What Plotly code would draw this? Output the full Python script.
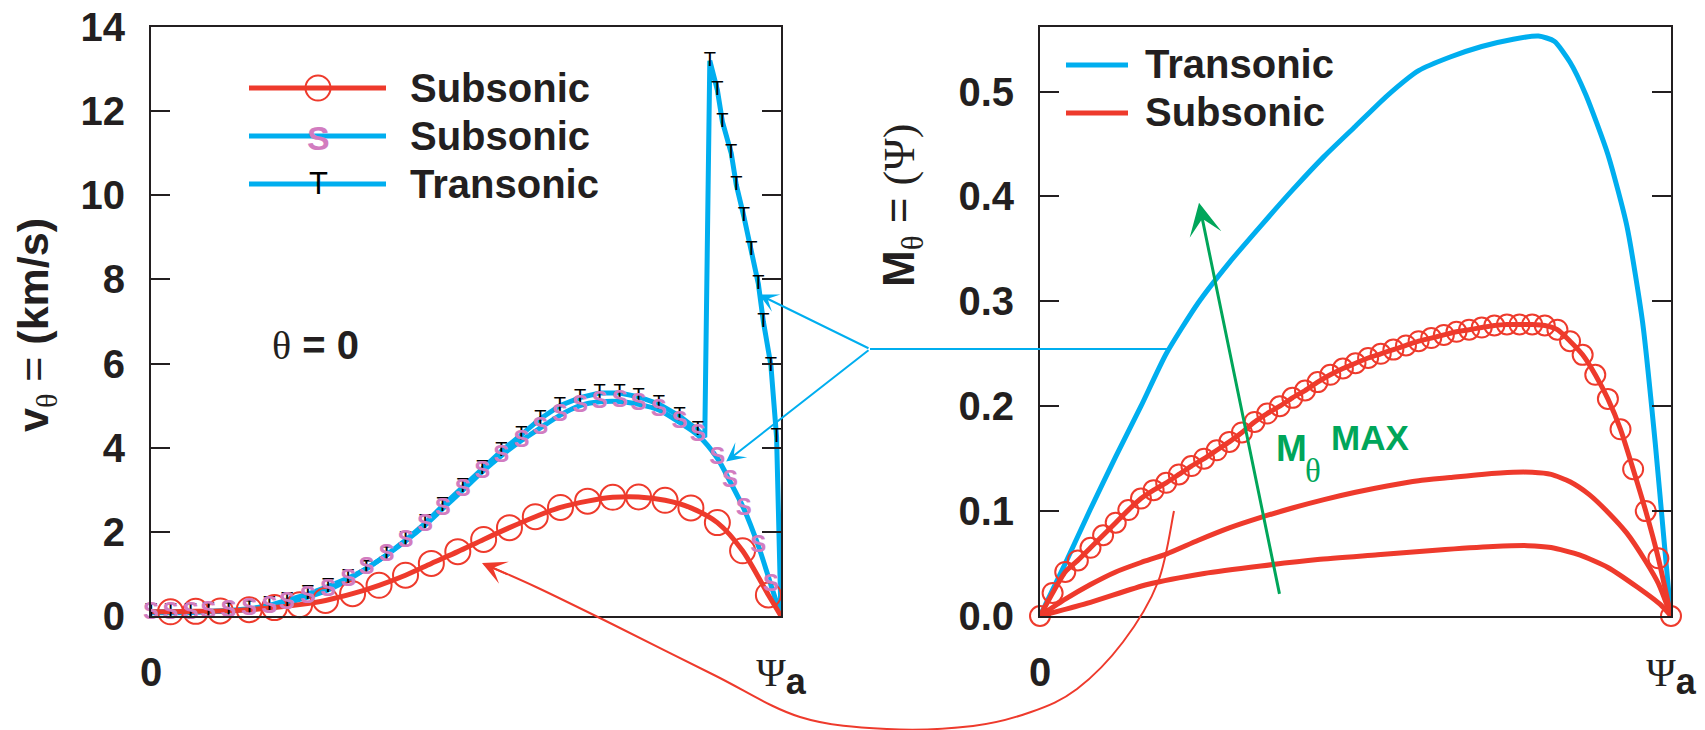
import plotly.graph_objects as go

W, H = 1705, 730
def px(x): return x / W
def py(y): return 1 - y / H

RED = "#EE3A2C"
CYAN = "#00AEEF"
PINK = "#D27CC0"
GREEN = "#00A65A"
INK = "#231F20"
SERIF = "Liberation Serif"
SANS = "Liberation Sans"

# ---------------- left panel data: v_theta (km/s) vs Psi ----------------
trans_x = [0.000, 0.031, 0.063, 0.091, 0.123, 0.156, 0.188, 0.216, 0.249, 0.281, 0.313, 0.342,
           0.374, 0.404, 0.435, 0.463, 0.495, 0.526, 0.556, 0.588, 0.618, 0.649, 0.681, 0.712,
           0.744, 0.774, 0.806, 0.839, 0.868, 0.879, 0.887, 0.899, 0.907, 0.921, 0.929, 0.941,
           0.953, 0.964, 0.972, 0.984, 0.993, 1.000]
trans_y = [0.10, 0.10, 0.10, 0.11, 0.13, 0.17, 0.25, 0.36, 0.52, 0.70, 0.90, 1.12,
           1.45, 1.80, 2.20, 2.62, 3.06, 3.50, 3.92, 4.31, 4.69, 5.00, 5.19, 5.30,
           5.30, 5.21, 5.04, 4.75, 4.42, 4.25, 13.2, 12.5, 11.75, 11.0, 10.25, 9.5,
           8.7, 7.9, 7.0, 5.95, 4.25, 0.0]
trans_mark = ["T"] * 29 + [""] + ["T"] * 11 + [""]

subS_x = [0.000, 0.031, 0.063, 0.091, 0.123, 0.156, 0.188, 0.216, 0.249, 0.281, 0.313, 0.342,
          0.374, 0.404, 0.435, 0.463, 0.495, 0.526, 0.556, 0.588, 0.618, 0.649, 0.681, 0.712,
          0.744, 0.774, 0.806, 0.839, 0.868, 0.899, 0.919, 0.941, 0.964, 0.984, 1.000]
subS_y = [0.08, 0.08, 0.08, 0.10, 0.12, 0.16, 0.22, 0.32, 0.45, 0.62, 0.86, 1.13,
          1.45, 1.78, 2.16, 2.55, 2.99, 3.43, 3.81, 4.17, 4.47, 4.77, 5.00, 5.09,
          5.10, 5.03, 4.90, 4.60, 4.30, 3.75, 3.20, 2.55, 1.67, 0.74, 0.00]
subS_mark = ["S"] * 34 + [""]

subO_x = [0.000, 0.031, 0.071, 0.110, 0.156, 0.196, 0.236, 0.277, 0.320, 0.362, 0.404, 0.445,
          0.487, 0.528, 0.569, 0.610, 0.650, 0.693, 0.733, 0.774, 0.816, 0.857, 0.899, 0.939,
          0.980, 1.000]
subO_y = [0.10, 0.10, 0.11, 0.12, 0.15, 0.20, 0.27, 0.37, 0.53, 0.73, 0.97, 1.25,
          1.53, 1.82, 2.10, 2.36, 2.58, 2.73, 2.82, 2.83, 2.75, 2.57, 2.22, 1.55,
          0.50, 0.00]

left_yticks = [0, 2, 4, 6, 8, 10, 12, 14]

# ---------------- right panel data: M_theta vs Psi ----------------
mtr_x = [0.00, 0.04, 0.08, 0.12, 0.16, 0.20, 0.25, 0.30, 0.35, 0.40, 0.45, 0.50, 0.55, 0.60,
         0.65, 0.70, 0.75, 0.79, 0.815, 0.84, 0.865, 0.90, 0.93, 0.955, 0.975, 0.99, 1.00]
mtr_y = [0.000, 0.050, 0.102, 0.152, 0.200, 0.250, 0.298, 0.337, 0.372, 0.406, 0.438, 0.467,
         0.496, 0.520, 0.533, 0.543, 0.550, 0.553, 0.548, 0.528, 0.497, 0.440, 0.372, 0.280,
         0.165, 0.065, 0.000]

msub1_x = [0.00, 0.02, 0.04, 0.06, 0.08, 0.10, 0.12, 0.14, 0.16, 0.18, 0.20, 0.22, 0.24,
           0.26, 0.28, 0.30, 0.32, 0.34, 0.36, 0.38, 0.40, 0.42, 0.44, 0.46, 0.48, 0.50,
           0.52, 0.54, 0.56, 0.58, 0.60, 0.62, 0.64, 0.66, 0.68, 0.70, 0.72, 0.74, 0.76,
           0.78, 0.80, 0.82, 0.84, 0.86, 0.88, 0.90, 0.92, 0.94, 0.96, 0.98, 1.00]
msub1_y = [0.000, 0.022, 0.042, 0.053, 0.065, 0.077, 0.089, 0.101, 0.112, 0.120, 0.127, 0.135,
           0.143, 0.150, 0.158, 0.166, 0.175, 0.185, 0.193, 0.200, 0.208, 0.215, 0.223, 0.230,
           0.236, 0.241, 0.246, 0.250, 0.254, 0.258, 0.262, 0.265, 0.268, 0.271, 0.273, 0.275,
           0.277, 0.278, 0.278, 0.278, 0.277, 0.273, 0.262, 0.249, 0.230, 0.207, 0.178, 0.140,
           0.100, 0.055, 0.000]

msub2_x = [0.00, 0.04, 0.08, 0.12, 0.16, 0.20, 0.25, 0.30, 0.35, 0.40, 0.45, 0.50, 0.55, 0.60,
           0.65, 0.70, 0.75, 0.78, 0.81, 0.84, 0.87, 0.90, 0.93, 0.96, 0.98, 1.00]
msub2_y = [0.000, 0.016, 0.030, 0.042, 0.051, 0.059, 0.072, 0.084, 0.094, 0.103, 0.111, 0.118,
           0.124, 0.129, 0.132, 0.135, 0.137, 0.137, 0.135, 0.128, 0.116, 0.099, 0.079, 0.052,
           0.031, 0.000]

msub3_x = [0.00, 0.08, 0.17, 0.26, 0.35, 0.44, 0.535, 0.627, 0.718, 0.773, 0.81, 0.855, 0.90,
           0.947, 0.983, 1.00]
msub3_y = [0.000, 0.013, 0.030, 0.0406, 0.0477, 0.0538, 0.0583, 0.0627, 0.0662, 0.0671, 0.0653,
           0.0583, 0.0463, 0.0274, 0.011, 0.000]

right_yticks = [0.0, 0.1, 0.2, 0.3, 0.4, 0.5]

# ---------------- figure ----------------
fig = go.Figure()
common = dict(hoverinfo="skip", showlegend=False, cliponaxis=False)

# left panel
fig.add_trace(go.Scatter(x=trans_x, y=trans_y, mode="lines", line=dict(color=CYAN, width=5),
                         xaxis="x", yaxis="y", **common))
fig.add_trace(go.Scatter(x=subS_x, y=subS_y, mode="lines",
                         line=dict(color=CYAN, width=5, shape="spline", smoothing=0.8),
                         xaxis="x", yaxis="y", **common))
fig.add_trace(go.Scatter(x=subO_x, y=subO_y, mode="lines",
                         line=dict(color=RED, width=5, shape="spline", smoothing=0.8),
                         xaxis="x", yaxis="y", **common))
fig.add_trace(go.Scatter(x=subO_x[1:-1], y=subO_y[1:-1], mode="markers",
                         marker=dict(symbol="circle-open", size=25, color=RED, line=dict(width=2)),
                         xaxis="x", yaxis="y", **common))
fig.add_trace(go.Scatter(x=trans_x, y=trans_y, mode="text", text=trans_mark,
                         textfont=dict(family=SANS, size=20, color="black"),
                         xaxis="x", yaxis="y", **common))
fig.add_trace(go.Scatter(x=subS_x, y=subS_y, mode="text", text=subS_mark,
                         textfont=dict(family=SANS, size=24, color=PINK, weight="bold"),
                         xaxis="x", yaxis="y", **common))

# right panel
fig.add_trace(go.Scatter(x=mtr_x, y=mtr_y, mode="lines",
                         line=dict(color=CYAN, width=5, shape="spline", smoothing=0.6),
                         xaxis="x2", yaxis="y2", **common))
fig.add_trace(go.Scatter(x=msub3_x, y=msub3_y, mode="lines",
                         line=dict(color=RED, width=5, shape="spline", smoothing=0.6),
                         xaxis="x2", yaxis="y2", **common))
fig.add_trace(go.Scatter(x=msub2_x, y=msub2_y, mode="lines",
                         line=dict(color=RED, width=5, shape="spline", smoothing=0.6),
                         xaxis="x2", yaxis="y2", **common))
fig.add_trace(go.Scatter(x=msub1_x, y=msub1_y, mode="lines+markers",
                         line=dict(color=RED, width=5, shape="spline", smoothing=0.6),
                         marker=dict(symbol="circle-open", size=20, color=RED, line=dict(width=2)),
                         xaxis="x2", yaxis="y2", **common))

TICKFONT = dict(family=SANS, size=40, color=INK, weight="bold")
PSI_A = ("<span style='font-family:Liberation Serif;font-weight:normal'>Ψ</span>"
         "<sub><span style='font-size:36px'>a</span></sub>")

def xax(domain, anchor):
    return dict(domain=domain, range=[0, 1], tickvals=[0, 1], ticktext=["0", PSI_A],
                ticks="", showline=True, linecolor=INK, linewidth=2, mirror=True,
                showgrid=False, zeroline=False, tickfont=TICKFONT, ticklabelstandoff=20,
                automargin=False, anchor=anchor, fixedrange=True)

def yax(rng, ticks, fmt, anchor):
    return dict(domain=[py(616), py(27)], range=rng, tickvals=ticks, tickformat=fmt,
                ticks="inside", ticklen=19, tickwidth=2, tickcolor=INK,
                showline=True, linecolor=INK, linewidth=2, mirror="ticks",
                showgrid=False, zeroline=False, tickfont=TICKFONT, ticklabelstandoff=16,
                automargin=False, anchor=anchor, fixedrange=True)

fig.update_layout(
    width=W, height=H, margin=dict(l=0, r=0, t=0, b=0, autoexpand=False),
    paper_bgcolor="white", plot_bgcolor="white", showlegend=False,
    xaxis=xax([px(151), px(781)], "y"),
    yaxis=yax([0, 14], left_yticks, "d", "x"),
    xaxis2=xax([px(1040), px(1671)], "y2"),
    yaxis2=yax([0, 0.5616], right_yticks, ".1f", "x2"),
)

shapes = []
annotations = []

def hline(x0, x1, y, color, width):
    shapes.append(dict(type="line", xref="paper", yref="paper", x0=px(x0), x1=px(x1),
                       y0=py(y), y1=py(y), line=dict(color=color, width=width)))

def label(x, y, text, size=40, color=INK, xanchor="left", angle=0, weight="bold", family=SANS):
    annotations.append(dict(xref="paper", yref="paper", x=px(x), y=py(y), text=text,
                            showarrow=False, xanchor=xanchor, yanchor="middle", textangle=angle,
                            font=dict(family=family, size=size, color=color, weight=weight)))

# left legend
hline(249, 386, 88, RED, 5)
shapes.append(dict(type="circle", xref="paper", yref="paper", x0=px(318 - 12.5), x1=px(318 + 12.5),
                   y0=py(88 + 12.5), y1=py(88 - 12.5), line=dict(color=RED, width=2),
                   fillcolor="rgba(0,0,0,0)"))
hline(249, 386, 136, CYAN, 5)
label(318, 138, "S", size=34, color=PINK, xanchor="center", weight="bold")
hline(249, 386, 184, CYAN, 5)
label(318, 183, "T", size=31, color="black", xanchor="center", weight="normal")
label(408, 88, "Subsonic")
label(408, 136, "Subsonic")
label(408, 184, "Transonic")

# right legend
hline(1066, 1128, 65, CYAN, 5)
hline(1066, 1128, 113, RED, 5)
label(1143, 64, "Transonic")
label(1143, 112, "Subsonic")

# theta = 0
label(315, 346, "<span style='font-family:Liberation Serif;font-weight:normal'>θ</span> = 0",
      xanchor="center")

# axis titles
label(36, 325, "<b>v</b><sub><span style='font-family:Liberation Serif'>θ</span></sub> = <b>(km/s)</b>",
      size=43, xanchor="center", angle=-90, weight="normal")
label(902, 206, "<b>M</b><sub><span style='font-family:Liberation Serif'>θ</span></sub> = "
      "<span style='font-family:Liberation Serif'>(Ψ)</span>",
      size=44, xanchor="center", angle=-90, weight="normal")

# M_theta^MAX label (three pieces)
label(1274, 448, "M", size=37, color=GREEN)
label(1303, 471, "θ", size=33, color=GREEN, weight="normal", family=SERIF)
label(1329, 437, "MAX", size=35, color=GREEN)

# cyan pointer lines
hline(870, 1170, 349, CYAN, 2)
for hx, hy in [(0.965, 7.64), (0.913, 3.67)]:
    hpx = 151 + hx * 630
    hpy = 616 - hy * (589 / 14)
    annotations.append(dict(xref="x", yref="y", x=hx, y=hy, ax=870 - hpx, ay=349 - hpy,
                            text="", showarrow=True, arrowhead=3, arrowsize=1.6,
                            arrowwidth=2, arrowcolor=CYAN, standoff=0))

# green arrow
annotations.append(dict(xref="x2", yref="y2", x=0.252, y=0.394, axref="x2", ayref="y2",
                        ax=0.380, ay=0.0197, text="", showarrow=True, arrowhead=3,
                        arrowsize=1.8, arrowwidth=3, arrowcolor=GREEN, standoff=0))

# red curved pointer
pts = [(1174, 511), (1158, 582), (1123, 642), (1077, 689), (1031, 712), (973, 726), (887, 729),
       (800, 717), (714, 675), (612, 624), (536, 587), (484, 564)]

def catmull(p):
    d = f"M {px(p[0][0]):.5f},{py(p[0][1]):.5f}"
    for i in range(len(p) - 1):
        p0 = p[i - 1] if i > 0 else p[i]
        p1, p2 = p[i], p[i + 1]
        p3 = p[i + 2] if i + 2 < len(p) else p[i + 1]
        c1 = (p1[0] + (p2[0] - p0[0]) / 6, p1[1] + (p2[1] - p0[1]) / 6)
        c2 = (p2[0] - (p3[0] - p1[0]) / 6, p2[1] - (p3[1] - p1[1]) / 6)
        d += (f" C {px(c1[0]):.5f},{py(c1[1]):.5f} {px(c2[0]):.5f},{py(c2[1]):.5f}"
              f" {px(p2[0]):.5f},{py(p2[1]):.5f}")
    return d

shapes.append(dict(type="path", xref="paper", yref="paper", path=catmull(pts),
                   line=dict(color=RED, width=2)))
annotations.append(dict(xref="paper", yref="paper", x=px(482), y=py(563), ax=27, ay=12,
                        text="", showarrow=True, arrowhead=3, arrowsize=2, arrowwidth=2,
                        arrowcolor=RED, standoff=0))

fig.update_layout(shapes=shapes, annotations=annotations)
fig.write_html("out.html")
